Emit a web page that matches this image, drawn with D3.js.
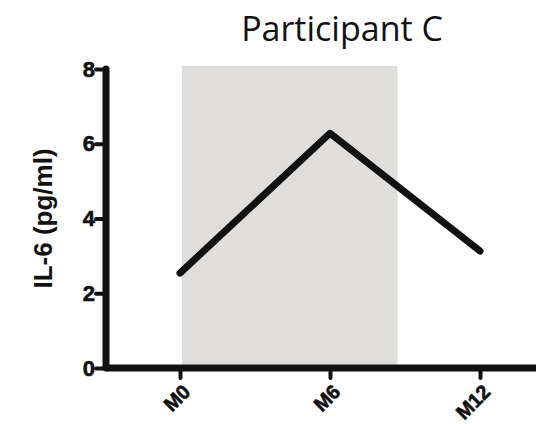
<!DOCTYPE html>
<html>
<head>
<meta charset="utf-8">
<script src="https://cdn.jsdelivr.net/npm/d3@7"></script>
<style>
  body { margin: 0; background: #fff; }
  svg { display: block; }
</style>
</head>
<body>
<div id="chart"></div>
<script>
const months = [0, 6, 12]
const monthLabels = ['M0', 'M6', 'M12']
const il6 = [2.54, 6.28, 3.13]
const yTicks = [0, 2, 4, 6, 8]
const shadeMonths = [0, 8.7]

const width = 536
const height = 424
const margin = { top: 69, right: 0, bottom: 56, left: 106 }

const svg = d3.select('#chart').append('svg')
  .attr('width', width)
  .attr('height', height)

const x = d3.scaleLinear()
  .domain([-2.96, 14.24])
  .range([margin.left, width - margin.right])

const y = d3.scaleLinear()
  .domain([0, 8])
  .range([height - margin.bottom, margin.top])

// shaded window
svg.append('rect')
  .attr('x', x(shadeMonths[0]) + 2)
  .attr('y', y(8) - 3)
  .attr('width', x(shadeMonths[1]) - x(shadeMonths[0]) - 2)
  .attr('height', y(0) - y(8) + 3)
  .attr('fill', '#dfdedd')

// title
svg.append('text')
  .attr('x', 342)
  .attr('y', 41)
  .attr('text-anchor', 'middle')
  .attr('font-family', 'Open Sans, sans-serif')
  .attr('font-size', 34)
  .attr('fill', '#111')
  .text('Participant C')

// y axis
const yAxis = svg.append('g')
  .attr('transform', `translate(${margin.left},0)`)
  .call(d3.axisLeft(y).tickValues(yTicks).tickSize(10).tickPadding(1))
yAxis.select('.domain').remove()
yAxis.selectAll('.tick line')
  .attr('stroke', '#111')
  .attr('stroke-width', 4)
  .attr('stroke-linecap', 'round')
yAxis.selectAll('.tick text')
  .attr('font-family', 'Liberation Sans, Arial, sans-serif')
  .attr('font-weight', 'bold')
  .attr('font-size', 22)
  .attr('fill', '#111')
  .attr('stroke', '#111')
  .attr('stroke-width', 0.6)
yAxis.append('line')
  .attr('x1', 0).attr('x2', 0)
  .attr('y1', y(8)).attr('y2', y(0))
  .attr('stroke', '#111')
  .attr('stroke-width', 7)
  .attr('stroke-linecap', 'round')

// x axis
const xAxis = svg.append('g')
  .attr('transform', `translate(0,${y(0)})`)
  .call(d3.axisBottom(x).tickValues(months)
    .tickFormat((d, i) => monthLabels[i]).tickSize(10).tickPadding(6))
xAxis.select('.domain').remove()
xAxis.selectAll('.tick line')
  .attr('stroke', '#111')
  .attr('stroke-width', 4)
  .attr('stroke-linecap', 'round')
xAxis.selectAll('.tick text')
  .attr('font-family', 'Liberation Sans, Arial, sans-serif')
  .attr('font-weight', 'bold')
  .attr('font-size', 20)
  .attr('fill', '#111')
  .attr('stroke', '#111')
  .attr('stroke-width', 0.6)
  .attr('text-anchor', 'end')
  .attr('x', 0)
  .attr('y', 0)
  .attr('dy', '0.72em')
  .attr('transform', 'translate(1,15) rotate(-45)')
xAxis.append('line')
  .attr('x1', margin.left).attr('x2', width)
  .attr('y1', 0).attr('y2', 0)
  .attr('stroke', '#111')
  .attr('stroke-width', 7)

// y label
svg.append('text')
  .attr('transform', `translate(52,${(y(0) + y(8)) / 2}) rotate(-90)`)
  .attr('text-anchor', 'middle')
  .attr('font-family', 'Liberation Sans, Arial, sans-serif')
  .attr('font-weight', 'bold')
  .attr('font-size', 26)
  .attr('fill', '#111')
  .text('IL-6 (pg/ml)')

// data line
const line = d3.line()
  .x((d, i) => x(months[i]))
  .y(d => y(d))

svg.append('path')
  .datum(il6)
  .attr('d', line)
  .attr('fill', 'none')
  .attr('stroke', '#111')
  .attr('stroke-width', 7)
  .attr('stroke-linecap', 'round')
  .attr('stroke-linejoin', 'round')
</script>
</body>
</html>
